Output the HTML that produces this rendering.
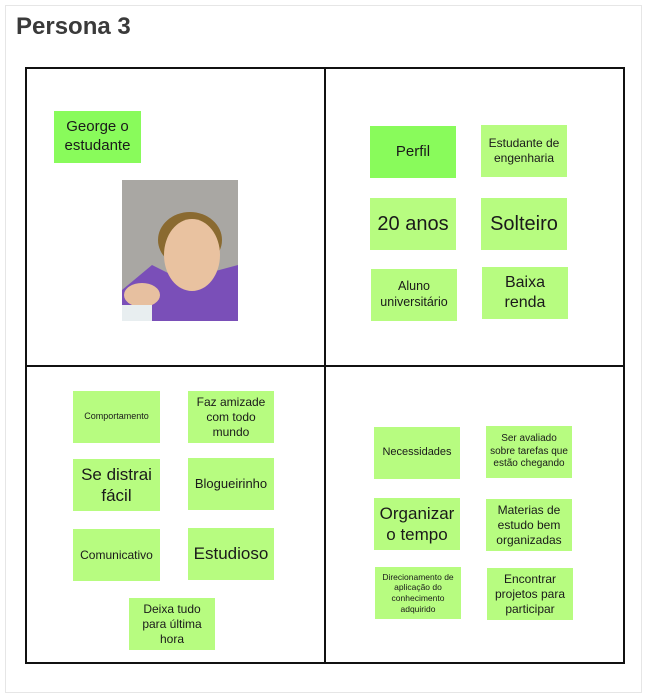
<!DOCTYPE html>
<html><head><meta charset="utf-8"><style>
body{margin:0;width:646px;height:698px;background:#fff;font-family:"Liberation Sans",sans-serif;position:relative;overflow:hidden}
.frame{position:absolute;left:5px;top:5px;width:635px;height:686px;border:1px solid #e6e6e6}
h1{position:absolute;left:16px;top:13px;margin:0;font-size:24px;font-weight:bold;color:#3a3a3a}
.grid{position:absolute;left:25px;top:67px;width:596px;height:593px;border:2px solid #111}
.v{position:absolute;left:324px;top:67px;width:2px;height:597px;background:#111}
.h{position:absolute;left:25px;top:365px;width:600px;height:2px;background:#111}
.n{position:absolute;width:86px;height:52px;background:#b7fc80;display:flex;align-items:center;justify-content:center;text-align:center;color:#1a1a1a;line-height:1.25;box-sizing:border-box;padding:0 2px}
.b{background:#89fb5b}
</style></head><body>
<div class="frame"></div>
<h1>Persona 3</h1>
<div class="grid"></div><div class="v"></div><div class="h"></div>
<div class="n b" style="left:54px;top:111px;width:87px;font-size:15px">George o estudante</div>
<svg style="position:absolute;left:122px;top:180px" width="116" height="141" viewBox="0 0 116 141">
<rect width="116" height="141" fill="#a9a7a3"/>
<path d="M0 110 L30 85 L60 100 L116 85 L116 141 L0 141Z" fill="#7a4fb8"/>
<ellipse cx="68" cy="60" rx="32" ry="28" fill="#8a6a30"/>
<ellipse cx="70" cy="75" rx="28" ry="36" fill="#e9c2a0"/>
<ellipse cx="20" cy="115" rx="18" ry="12" fill="#e7c0a0"/>
<rect x="0" y="125" width="30" height="16" fill="#e8eef0"/>
</svg>
<div class="n b" style="left:370px;top:126px;font-size:15px">Perfil</div>
<div class="n" style="left:481px;top:125px;font-size:12px">Estudante de engenharia</div>
<div class="n" style="left:370px;top:198px;font-size:20px">20 anos</div>
<div class="n" style="left:481px;top:198px;font-size:20px">Solteiro</div>
<div class="n" style="left:371px;top:269px;font-size:12.5px">Aluno universitário</div>
<div class="n" style="left:482px;top:267px;font-size:16px">Baixa renda</div>
<div class="n" style="left:73px;top:391px;width:87px;font-size:9px">Comportamento</div>
<div class="n" style="left:188px;top:391px;font-size:12px">Faz amizade com todo mundo</div>
<div class="n" style="left:73px;top:459px;width:87px;font-size:17px">Se distrai fácil</div>
<div class="n" style="left:188px;top:458px;font-size:13px">Blogueirinho</div>
<div class="n" style="left:73px;top:529px;width:87px;font-size:12px">Comunicativo</div>
<div class="n" style="left:188px;top:528px;font-size:17px">Estudioso</div>
<div class="n" style="left:129px;top:598px;font-size:12px">Deixa tudo para última hora</div>
<div class="n" style="left:374px;top:427px;font-size:11px">Necessidades</div>
<div class="n" style="left:486px;top:426px;font-size:10px">Ser avaliado sobre tarefas que estão chegando</div>
<div class="n" style="left:374px;top:498px;font-size:17px">Organizar o tempo</div>
<div class="n" style="left:486px;top:499px;font-size:12px">Materias de estudo bem organizadas</div>
<div class="n" style="left:375px;top:567px;font-size:8.5px">Direcionamento de aplicação do conhecimento adquirido</div>
<div class="n" style="left:487px;top:568px;font-size:12px">Encontrar projetos para participar</div>
</body></html>
